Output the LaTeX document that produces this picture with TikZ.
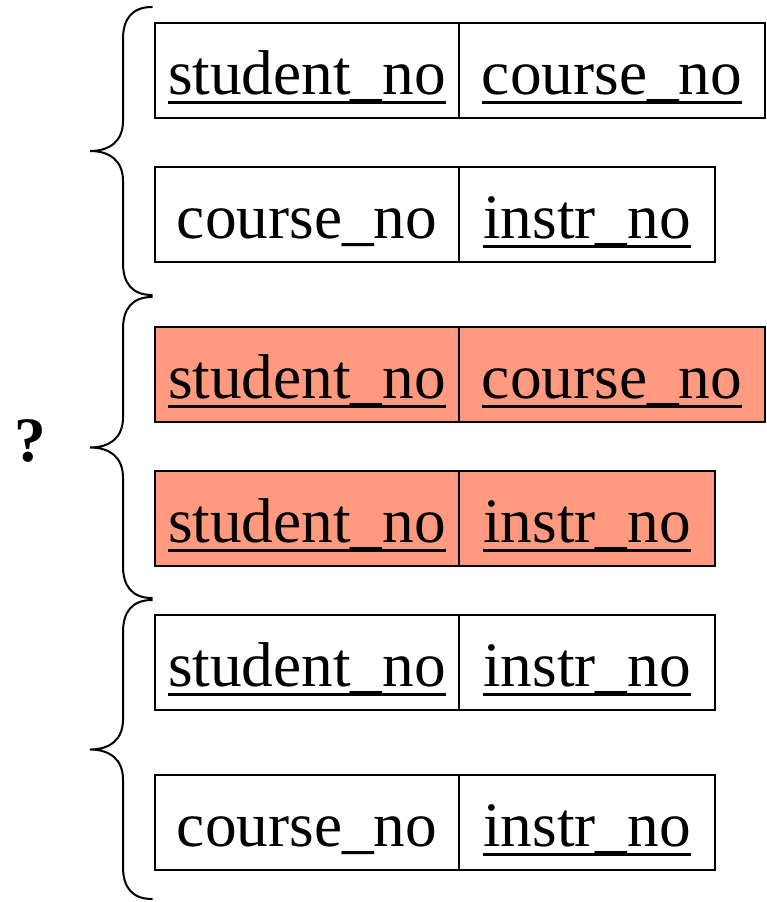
\documentclass[tikz,border=0pt]{standalone}
\usepackage{fontspec}
\setmainfont{Liberation Serif}
\definecolor{keypink}{RGB}{255,153,128}
% key attribute: text with a heavy underline below the baseline
\newcommand\pkey[1]{\setbox0\hbox{#1}\rlap{\rule[-9.5pt]{\wd0}{3pt}}\box0}
% curly brace from y=#1 down to y=#2, tip pointing left
\newcommand\leftbrace[2]{%
  \pgfmathsetmacro\bm{(#1+#2)/2}%
  \draw[bracepath] (152,#1) .. controls (132,#1) and (123,{#1+12}) .. (123,{#1+32})
    -- (123,{\bm-30}) .. controls (123,{\bm-10}) and (110,\bm) .. (90,\bm)
    .. controls (110,\bm) and (123,{\bm+10}) .. (123,{\bm+30})
    -- (123,{#2-32}) .. controls (123,{#2-12}) and (132,#2) .. (152,#2);}
\tikzset{
  cell/.style={draw, line width=2pt, inner sep=0pt, outer sep=0pt, text height=71pt, text depth=24pt,
    minimum width=#1, anchor=north west, font=\fontsize{63.3}{70}\selectfont},
  keycell/.style={cell=#1, fill=keypink},
  bracepath/.style={line width=2pt, line cap=round},
}
\begin{document}
\begin{tikzpicture}[x=1pt,y=-1pt]
  \useasboundingbox (0,0) rectangle (767,902);

  % relation 1
  \node[cell=304pt] (r1a) at (155,23) {\pkey{student\_no}};
  \node[cell=306pt] (r1b) at (r1a.north east) {\pkey{course\_no}};
  % relation 2
  \node[cell=304pt] (r2a) at (155,167) {course\_no};
  \node[cell=256pt] (r2b) at (r2a.north east) {\pkey{instr\_no}};
  % relation 3 (highlighted)
  \node[keycell=304pt] (r3a) at (155,327) {\pkey{student\_no}};
  \node[keycell=306pt] (r3b) at (r3a.north east) {\pkey{course\_no}};
  % relation 4 (highlighted)
  \node[keycell=304pt] (r4a) at (155,471) {\pkey{student\_no}};
  \node[keycell=256pt] (r4b) at (r4a.north east) {\pkey{instr\_no}};
  % relation 5
  \node[cell=304pt] (r5a) at (155,615) {\pkey{student\_no}};
  \node[cell=256pt] (r5b) at (r5a.north east) {\pkey{instr\_no}};
  % relation 6
  \node[cell=304pt] (r6a) at (155,775) {course\_no};
  \node[cell=256pt] (r6b) at (r6a.north east) {\pkey{instr\_no}};

  % grouping braces
  \leftbrace{7}{295}
  \leftbrace{297}{598}
  \leftbrace{600}{899}

  \node[anchor=base, inner sep=0pt, font=\fontsize{63.3}{70}\selectfont\bfseries] (q) at (30,461) {?};
\end{tikzpicture}
\end{document}
